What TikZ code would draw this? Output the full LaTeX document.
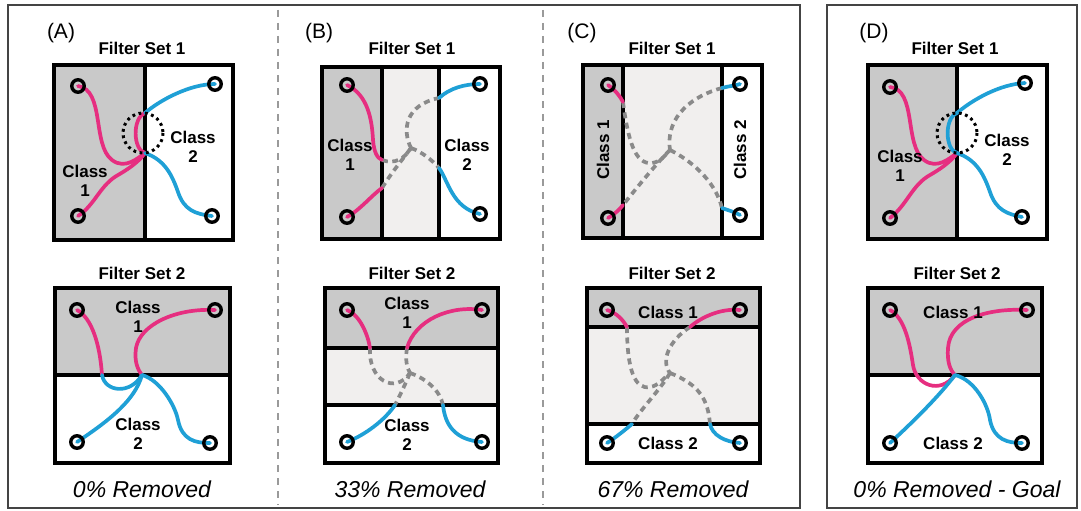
\documentclass[tikz,border=0pt]{standalone}
\usepackage{fontspec}
\setmainfont{Liberation Sans}
\definecolor{pinkc}{HTML}{E62E80}
\definecolor{bluec}{HTML}{1FA0D6}
\definecolor{darkfill}{HTML}{C9C9C9}
\definecolor{lightfill}{HTML}{F1EFEE}
\definecolor{dashc}{HTML}{8A8A8A}
\definecolor{framec}{HTML}{444444}
\definecolor{sepc}{HTML}{9A9A9A}
\tikzset{
  frame/.style={draw=framec, line width=1.3},
  sepline/.style={draw=sepc, line width=1.2, dash pattern=on 7pt off 6pt},
  bord/.style={draw=black, line width=4},
  divl/.style={draw=black, line width=3.6},
  pinkline/.style={draw=pinkc, line width=3.7, line cap=round},
  blueline/.style={draw=bluec, line width=3.7, line cap=round},
  gapline/.style={draw=dashc, line width=3.7, dash pattern=on 6pt off 4.5pt},
  ring/.style={circle, draw=black, line width=3.4, minimum size=12.5pt, inner sep=0pt},
  dotring/.style={draw=black, line width=3, dash pattern=on 2.8pt off 3.6pt},
  panellabel/.style={font=\fontsize{21}{23}\selectfont, inner sep=0pt},
  settitle/.style={font=\bfseries\fontsize{17}{19}\selectfont, inner sep=0pt},
  classlbl/.style={font=\bfseries\fontsize{17}{18.5}\selectfont, align=center, inner sep=0pt},
  removed/.style={font=\itshape\fontsize{23}{25}\selectfont, inner sep=0pt},
}
\begin{document}
\begin{tikzpicture}[x=1pt, y=-1pt]
\useasboundingbox (0,0) rectangle (1081,511);

% outer frames and separators
\draw[frame] (8,5) rectangle (800,508);
\draw[frame] (827,5) rectangle (1077,508);
\draw[sepline] (278,10) -- (278,505);
\draw[sepline] (543,10) -- (543,505);

% ---------- box fills ----------
% A, filter set 1 / 2
\fill[darkfill] (54,65) rectangle (145,240);
\fill[darkfill] (55,288) rectangle (230,375);
% B
\fill[darkfill] (322,67) rectangle (382,239);
\fill[lightfill] (382,67) rectangle (439,239);
\fill[darkfill] (325,288) rectangle (498,348);
\fill[lightfill] (325,348) rectangle (498,405);
% C
\fill[darkfill] (583,65) rectangle (623,238);
\fill[lightfill] (623,65) rectangle (722,238);
\fill[darkfill] (587,288) rectangle (760,327);
\fill[lightfill] (587,327) rectangle (760,424);
% D
\fill[darkfill] (868,65) rectangle (957,239);
\fill[darkfill] (868,288) rectangle (1042,375);

% ---------- dividers and borders ----------
\draw[divl] (145,65) -- (145,240);
\draw[divl] (55,375) -- (230,375);
\draw[divl] (382,67) -- (382,239);
\draw[divl] (439,67) -- (439,239);
\draw[divl] (325,348) -- (498,348);
\draw[divl] (325,405) -- (498,405);
\draw[divl] (623,65) -- (623,238);
\draw[divl] (722,65) -- (722,238);
\draw[divl] (587,327) -- (760,327);
\draw[divl] (587,424) -- (760,424);
\draw[divl] (957,65) -- (957,239);
\draw[divl] (868,375) -- (1042,375);
\draw[bord] (54,65) rectangle (233,240);
\draw[bord] (55,288) rectangle (230,463);
\draw[bord] (322,67) rectangle (500,239);
\draw[bord] (325,288) rectangle (498,463);
\draw[bord] (583,65) rectangle (762,238);
\draw[bord] (587,288) rectangle (760,463);
\draw[bord] (868,65) rectangle (1047,239);
\draw[bord] (868,288) rectangle (1042,463);

% ---------- points ----------
\coordinate (A1tl) at (78,86);  \coordinate (A1tr) at (215,84);
\coordinate (A1bl) at (78,216); \coordinate (A1br) at (212,216);
\coordinate (A1j) at (145,153); \coordinate (A1t) at (145,113);
\coordinate (A2tl) at (77,310);  \coordinate (A2tr) at (215,310);
\coordinate (A2bl) at (77,442);  \coordinate (A2br) at (210,443);
\coordinate (A2j) at (142,375);  \coordinate (A2m) at (102,375);

\coordinate (B1tl) at (347,85);  \coordinate (B1tr) at (480,84);
\coordinate (B1bl) at (347,217); \coordinate (B1br) at (480,214);
\coordinate (B1pa) at (382,160); \coordinate (B1pb) at (382,188);
\coordinate (B1ba) at (439,98);  \coordinate (B1bb) at (439,168);
\coordinate (B1j) at (411,148);
\coordinate (B2tl) at (347,310); \coordinate (B2tr) at (482,310);
\coordinate (B2bl) at (347,442); \coordinate (B2br) at (482,442);
\coordinate (B2pa) at (370,348); \coordinate (B2pb) at (407,348);
\coordinate (B2ba) at (395,405); \coordinate (B2bb) at (443,405);
\coordinate (B2j) at (410,373);

\coordinate (C1tl) at (608,85);  \coordinate (C1tr) at (740,84);
\coordinate (C1bl) at (608,218); \coordinate (C1br) at (740,215);
\coordinate (C1pa) at (623,102); \coordinate (C1pb) at (623,205);
\coordinate (C1ba) at (722,88);  \coordinate (C1bb) at (722,208);
\coordinate (C1j) at (670,150);
\coordinate (C2tl) at (607,310); \coordinate (C2tr) at (740,310);
\coordinate (C2bl) at (607,443); \coordinate (C2br) at (740,443);
\coordinate (C2pa) at (627,327); \coordinate (C2pb) at (690,327);
\coordinate (C2ba) at (632,424); \coordinate (C2bb) at (710,424);
\coordinate (C2j) at (670,373);

\coordinate (D1tl) at (890,87);  \coordinate (D1tr) at (1025,83);
\coordinate (D1bl) at (890,218); \coordinate (D1br) at (1022,217);
\coordinate (D1j) at (957,153);  \coordinate (D1t) at (957,113);
\coordinate (D2tl) at (890,310); \coordinate (D2tr) at (1027,310);
\coordinate (D2bl) at (890,443); \coordinate (D2br) at (1022,443);
\coordinate (D2j) at (955,375);

% ---------- panel A curves ----------
\draw[pinkline] (A1tl) .. controls (105,90) and (92,145) .. (112,160) .. controls (125,170) and (138,158) .. (A1j);
\draw[pinkline] (A1bl) .. controls (95,205) and (100,185) .. (118,175) .. controls (132,167) and (140,160) .. (A1j);
\draw[pinkline] (A1j) .. controls (133,150) and (132,118) .. (A1t);
\draw[blueline] (A1t) .. controls (160,100) and (190,84) .. (A1tr);
\draw[blueline] (A1j) .. controls (165,160) and (172,175) .. (178,192) .. controls (184,210) and (195,214) .. (A1br);

\draw[pinkline] (A2tl) .. controls (92,318) and (100,345) .. (A2m);
\draw[blueline] (A2m) .. controls (105,392) and (130,395) .. (A2j);
\draw[pinkline] (A2tr) .. controls (175,308) and (140,325) .. (136,348) .. controls (134,362) and (138,370) .. (A2j);
\draw[blueline] (A2j) .. controls (135,400) and (110,420) .. (A2bl);
\draw[blueline] (A2j) .. controls (160,380) and (175,405) .. (178,420) .. controls (182,440) and (195,443) .. (A2br);

% ---------- panel B curves ----------
\draw[gapline] (B1pa) .. controls (395,165) and (405,158) .. (B1j);
\draw[gapline] (B1pb) .. controls (392,172) and (402,160) .. (B1j);
\draw[gapline] (B1j) .. controls (402,130) and (405,105) .. (B1ba);
\draw[gapline] (B1j) .. controls (422,152) and (432,160) .. (B1bb);
\draw[pinkline] (B1tl) .. controls (368,95) and (372,120) .. (373,140) .. controls (374,152) and (377,158) .. (B1pa);
\draw[pinkline] (B1bl) .. controls (360,210) and (372,195) .. (B1pb);
\draw[blueline] (B1tr) .. controls (465,84) and (450,88) .. (B1ba);
\draw[blueline] (B1bb) .. controls (448,180) and (452,208) .. (B1br);

\draw[gapline] (B2pa) .. controls (368,380) and (395,395) .. (B2j);
\draw[gapline] (B2pb) .. controls (405,360) and (407,368) .. (B2j);
\draw[gapline] (B2j) .. controls (405,385) and (400,395) .. (B2ba);
\draw[gapline] (B2j) .. controls (425,378) and (440,390) .. (B2bb);
\draw[pinkline] (B2tl) .. controls (360,315) and (368,335) .. (B2pa);
\draw[pinkline] (B2tr) .. controls (450,305) and (415,320) .. (B2pb);
\draw[blueline] (B2bl) .. controls (365,435) and (385,420) .. (B2ba);
\draw[blueline] (B2br) .. controls (455,440) and (445,425) .. (B2bb);

% ---------- panel C curves ----------
\draw[gapline] (C1pa) .. controls (628,140) and (635,165) .. (652,163) .. controls (660,162) and (665,156) .. (C1j);
\draw[gapline] (C1ba) .. controls (695,95) and (665,115) .. (C1j);
\draw[gapline] (C1j) .. controls (655,165) and (635,190) .. (C1pb);
\draw[gapline] (C1j) .. controls (690,160) and (715,180) .. (C1bb);
\draw[pinkline] (C1tl) .. controls (615,90) and (620,96) .. (C1pa);
\draw[pinkline] (C1bl) .. controls (615,214) and (620,209) .. (C1pb);
\draw[blueline] (C1tr) .. controls (735,86) and (728,86) .. (C1ba);
\draw[blueline] (C1br) .. controls (735,212) and (727,210) .. (C1bb);

\draw[gapline] (C2pa) .. controls (627,370) and (635,390) .. (650,387) .. controls (658,386) and (664,378) .. (C2j);
\draw[gapline] (C2pb) .. controls (670,340) and (660,360) .. (C2j);
\draw[gapline] (C2j) .. controls (660,390) and (640,410) .. (C2ba);
\draw[gapline] (C2j) .. controls (700,385) and (708,400) .. (C2bb);
\draw[pinkline] (C2tl) .. controls (617,313) and (623,320) .. (C2pa);
\draw[pinkline] (C2tr) .. controls (720,308) and (700,318) .. (C2pb);
\draw[blueline] (C2bl) .. controls (615,438) and (625,430) .. (C2ba);
\draw[blueline] (C2br) .. controls (725,442) and (712,435) .. (C2bb);

% ---------- panel D curves ----------
\draw[pinkline] (D1tl) .. controls (917,90) and (904,145) .. (924,160) .. controls (937,170) and (950,158) .. (D1j);
\draw[pinkline] (D1bl) .. controls (907,205) and (912,185) .. (930,175) .. controls (944,167) and (952,160) .. (D1j);
\draw[blueline] (D1j) .. controls (945,150) and (944,118) .. (D1t);
\draw[blueline] (D1t) .. controls (972,100) and (1000,84) .. (D1tr);
\draw[blueline] (D1j) .. controls (977,160) and (984,175) .. (990,192) .. controls (996,210) and (1007,214) .. (D1br);

\draw[pinkline] (D2tl) .. controls (905,318) and (910,345) .. (913,365) .. controls (916,385) and (940,395) .. (D2j);
\draw[pinkline] (D2tr) .. controls (990,308) and (950,318) .. (948,348) .. controls (947,362) and (950,370) .. (D2j);
\draw[blueline] (D2j) .. controls (940,395) and (915,420) .. (D2bl);
\draw[blueline] (D2j) .. controls (975,380) and (988,405) .. (990,420) .. controls (994,440) and (1008,443) .. (D2br);

% ---------- rings ----------
\foreach \p in {A1tl,A1tr,A1bl,A1br,A2tl,A2tr,A2bl,A2br,
                B1tl,B1tr,B1bl,B1br,B2tl,B2tr,B2bl,B2br,
                C1tl,C1tr,C1bl,C1br,C2tl,C2tr,C2bl,C2br,
                D1tl,D1tr,D1bl,D1br,D2tl,D2tr,D2bl,D2br}
  \node[ring] (r\p) at (\p) {};

% dotted circles around the overlap
\draw[dotring] (143,133) circle (20);
\draw[dotring] (957,133) circle (20);

% ---------- texts ----------
\node[panellabel] (tA) at (61,33) {(A)};
\node[panellabel] (tB) at (319,33) {(B)};
\node[panellabel] (tC) at (582,33) {(C)};
\node[panellabel] (tD) at (874,33) {(D)};

\node[settitle] (fA1) at (142,48) {Filter Set 1};
\node[settitle] (fB1) at (412,48) {Filter Set 1};
\node[settitle] (fC1) at (672,48) {Filter Set 1};
\node[settitle] (fD1) at (955,48) {Filter Set 1};
\node[settitle] (fA2) at (142,273) {Filter Set 2};
\node[settitle] (fB2) at (412,273) {Filter Set 2};
\node[settitle] (fC2) at (672,273) {Filter Set 2};
\node[settitle] (fD2) at (957,273) {Filter Set 2};

\node[classlbl] (cA11) at (85,181) {Class\\1};
\node[classlbl] (cA12) at (193,147) {Class\\2};
\node[classlbl] (cA21) at (138,317) {Class\\1};
\node[classlbl] (cA22) at (138,434) {Class\\2};
\node[classlbl] (cB11) at (350,155) {Class\\1};
\node[classlbl] (cB12) at (467,155) {Class\\2};
\node[classlbl] (cB21) at (407,313) {Class\\1};
\node[classlbl] (cB22) at (407,435) {Class\\2};
\node[classlbl, rotate=90] (cC11) at (603,150) {Class 1};
\node[classlbl, rotate=90] (cC12) at (740,150) {Class 2};
\node[classlbl] (cC21) at (668,312) {Class 1};
\node[classlbl] (cC22) at (668,443) {Class 2};
\node[classlbl] (cD11) at (900,166) {Class\\1};
\node[classlbl] (cD12) at (1007,150) {Class\\2};
\node[classlbl] (cD21) at (953,312) {Class 1};
\node[classlbl] (cD22) at (953,443) {Class 2};

\node[removed] (rmA) at (142,489) {0\% Removed};
\node[removed] (rmB) at (410,489) {33\% Removed};
\node[removed] (rmC) at (673,489) {67\% Removed};
\node[removed] (rmD) at (957,489) {0\% Removed - Goal};
\end{tikzpicture}
\end{document}
